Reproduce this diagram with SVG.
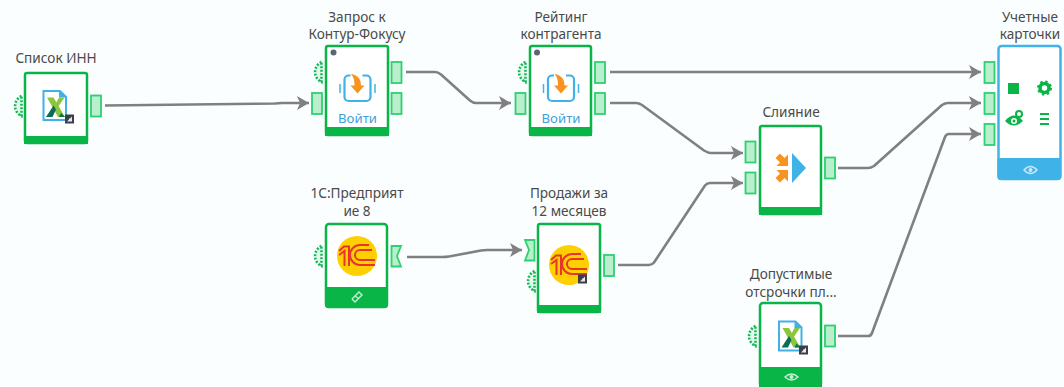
<svg xmlns="http://www.w3.org/2000/svg" width="1064" height="387" viewBox="0 0 1064 387">
<style>
.box{fill:#fff;stroke:#0ab547;stroke-width:2.5}
.foot{fill:#0ab547}
.port{fill:#b9efcc;stroke:#2ed071;stroke-width:1.8}
.half{fill:#e4f8ec;stroke:#14b957;stroke-width:2.6;stroke-dasharray:2 1.5}
.lbl{font-family:"Noto Sans","Roboto","Liberation Sans",sans-serif;font-size:13.6px;fill:#4a4a4a;text-anchor:middle}
.login{font-family:"Noto Sans","Roboto","Liberation Sans",sans-serif;font-size:13.2px;fill:#3f9fd8;text-anchor:middle}
.conn{fill:none;stroke:#808080;stroke-width:2.6;stroke-linejoin:round;marker-end:url(#arr)}
.red{fill:none;stroke:#e8352b;stroke-width:2}
.pale{fill:none;stroke:#c4efd3;stroke-width:1.4}
</style>
<defs>
<marker id="arr" markerUnits="userSpaceOnUse" markerWidth="16" markerHeight="16" refX="14" refY="8" orient="auto"><path d="M2 1L14 8L2 15L5 8Z" fill="#808080"/></marker>
<g id="xl">
<path d="M-11.500-14.500H5L11-8.500V14.500H-11.500Z" fill="#fff" stroke="#3fb2e8" stroke-width="2"/>
<path d="M4-15V-8H11.500Z" fill="#3fb2e8"/>
<path d="M-8-8H-1.500L10 11.500H3Z" fill="#8cc63f"/>
<path d="M4-8H9.500L3 1.500L1-2.500Z" fill="#8cc63f"/>
<path d="M-1.500 0L1 4L-2.500 11.500H-9Z" fill="#0a6e57"/>
<path d="M4 11.500L6 7.500L10 11.500Z" fill="#0a6e57"/>
</g>
<g id="short"><rect x="-4.500" y="-4.500" width="9" height="9" fill="#3a3f4b"/><path d="M-2.500 2.500H2.500V-2.500L.5-.5H-.5V.5Z" fill="#e8e8e8"/></g>
<g id="onec">
<circle r="20" fill="#ffd000"/>
<path class="red" d="M-18-5L-13-9.500H-8V10M-18-1L-12.500-5V10"/>
<path class="red" d="M18 9H3A10 10 0 0 1 3-11H12M18 4H3A5 5 0 0 1 3-6H15"/>
</g>
<g id="login">
<rect x="-13" y="-12.500" width="26" height="25.500" rx="4" fill="none" stroke="#3fb2e8" stroke-width="2.200"/>
<path d="M-17.500-4V5M17.500-4V5" stroke="#3fb2e8" stroke-width="1.500"/>
<rect x="-7" y="-14" width="12" height="4" fill="#fff"/>
<path d="M-6.500-14C1-13 3.500-8 3.500-2.500H7L0 5.500L-7-2.500H-3C-3-7-3.500-11-6.500-14Z" fill="#f7931e"/>
</g>
<g id="eye"><path d="M-6.500 0Q0-6 6.500 0Q0 6-6.500 0Z" class="pale"/><circle r="2" fill="#c4efd3"/></g>
</defs>
<rect width="1064" height="387" fill="#fbfefe"/>
<g id="connectors">
<path class="conn" d="M105 105.500L275 103.500Q278 103 282 103H309"/>
<path class="conn" d="M406 72H435Q438 72 441 74.500L470 100.500Q473 103 476 103H511"/>
<path class="conn" d="M610 72H981"/>
<path class="conn" d="M610 103H636Q639 103 642 105L704 150.500Q708 153 711 153H743"/>
<path class="conn" d="M407 257H442Q446 257 449 256.500L481 250.500Q484 250 487 250H522"/>
<path class="conn" d="M618 265H649Q652 265 654 262.500L705 185.500Q707 183 710 183H743"/>
<path class="conn" d="M838 168H868Q871 168 874 166L942 105Q945 103 948 103H981"/>
<path class="conn" d="M838 336H868Q871 336 872 333L945 137Q946 134 949 134H981"/>
</g>
<g id="node-inn">
<rect class="box" x="25" y="73" width="62" height="70" rx="2"/><rect class="foot" x="24" y="136" width="64" height="8"/>
<path class="half" d="M21.500 96A11 11 0 0 0 21.500 116Z"/>
<rect class="port" x="91" y="95.500" width="10" height="21"/>
<use href="#xl" x="55" y="105.500"/><use href="#short" x="69.500" y="119"/>
<text class="lbl" x="56" y="63">Список ИНН</text>
</g>
<g id="node-query">
<rect class="box" x="326" y="46" width="62" height="89" rx="2"/><rect class="foot" x="325" y="127" width="64" height="9"/>
<circle cx="333.500" cy="52.500" r="3" fill="#5a6675"/>
<path class="half" d="M321.500 62A11 11 0 0 0 321.500 82Z"/>
<rect class="port" x="312" y="93" width="10" height="21"/>
<rect class="port" x="391.500" y="62" width="10" height="21"/><rect class="port" x="391.500" y="93" width="10" height="21"/>
<use href="#login" x="357.500" y="88"/>
<text class="login" x="357.500" y="123">Войти</text>
<text class="lbl" x="357" y="22">Запрос к</text><text class="lbl" x="357" y="39">Контур-Фокусу</text>
</g>
<g id="node-rating">
<rect class="box" x="530" y="46" width="61" height="89" rx="2"/><rect class="foot" x="529" y="127" width="63" height="9"/>
<circle cx="537" cy="52.500" r="3" fill="#5a6675"/>
<path class="half" d="M525.500 62A11 11 0 0 0 525.500 82Z"/>
<rect class="port" x="515.500" y="93" width="10" height="21"/>
<rect class="port" x="595" y="62" width="10" height="21"/><rect class="port" x="595" y="93" width="10" height="21"/>
<use href="#login" x="561" y="88"/>
<text class="login" x="561" y="123">Войти</text>
<text class="lbl" x="561" y="22">Рейтинг</text><text class="lbl" x="561" y="39">контрагента</text>
</g>
<g id="node-cards">
<rect x="998.500" y="46" width="62" height="133" rx="3" fill="#fff" stroke="#3fb2e8" stroke-width="2.500"/>
<path d="M997.500 158H1061V177a3 3 0 0 1-3 3H1000.500a3 3 0 0 1-3-3Z" fill="#3fb2e8"/>
<rect class="port" x="984.500" y="62" width="10" height="21"/><rect class="port" x="984.500" y="93" width="10" height="21"/><rect class="port" x="984.500" y="124" width="10" height="21"/>
<rect x="1008" y="83" width="11" height="11" fill="#0ab547"/>
<circle cx="1044.500" cy="88" r="4.500" fill="none" stroke="#0ab547" stroke-width="3.500"/><circle cx="1044.500" cy="88" r="6.500" fill="none" stroke="#0ab547" stroke-width="2" stroke-dasharray="2.400 2.700"/>
<path d="M1005 121Q1014 110 1023 121Q1014 130 1005 121Z" fill="#0ab547"/><circle cx="1014" cy="121" r="3" fill="#fff"/><circle cx="1014" cy="121" r="1.500" fill="#0ab547"/>
<circle cx="1019" cy="114" r="3" fill="#fff" stroke="#0ab547" stroke-width="2"/>
<path d="M1040 114H1049M1040 119H1049M1040 124H1049" stroke="#0ab547" stroke-width="2"/>
<path d="M1024 170Q1030.500 163 1037 170Q1030.500 177 1024 170Z" fill="none" stroke="#c5e9f8" stroke-width="1.400"/><circle cx="1030.500" cy="170" r="2" fill="#c5e9f8"/>
<text class="lbl" x="1030" y="22">Учетные</text><text class="lbl" x="1030" y="39">карточки</text>
</g>
<g id="node-merge">
<rect class="box" x="760" y="126" width="61" height="88" rx="2"/><rect class="foot" x="759" y="207" width="63" height="8"/>
<rect class="port" x="745.500" y="141.500" width="10" height="21"/><rect class="port" x="745.500" y="172.500" width="10" height="21"/>
<rect class="port" x="825" y="157.500" width="10" height="21"/>
<path d="M792 153L806 168L792 183Z" fill="#3fb2e8"/>
<path d="M788 166H776.500L780 162.500L775.500 158L780 153.500L784.500 158L788 154.500ZM788 170H776.500L780 173.500L775.500 178L780 182.500L784.500 178L788 181.500Z" fill="#f7931e"/>
<text class="lbl" x="791" y="117">Слияние</text>
</g>
<g id="node-1c">
<rect class="box" x="326" y="224" width="61" height="83" rx="3"/><path class="foot" d="M325 287H388V305a3 3 0 0 1-3 3H328a3 3 0 0 1-3-3Z"/>
<path class="half" d="M321.500 246A11 11 0 0 0 321.500 266Z"/>
<path class="port" d="M391.500 246H401L397 256L401 266.500H391.500Z"/>
<use href="#onec" x="357" y="256"/>
<path class="pale" d="M352 299L355 302L362 295L359 292L352 299M355 296Q358 298 359 299" />
<text class="lbl" x="357" y="198">1С:Предприят</text><text class="lbl" x="357" y="216">ие 8</text>
</g>
<g id="node-sales">
<rect class="box" x="538" y="224" width="62" height="88" rx="2"/><rect class="foot" x="537" y="305" width="64" height="8"/>
<path class="port" d="M525 240H534.500V260.500H525L529 250Z"/>
<path class="half" d="M534.500 271A11 11 0 0 0 534.500 291Z"/>
<rect class="port" x="604" y="255" width="10" height="21"/>
<use href="#onec" x="569" y="265"/><use href="#short" x="582.500" y="279"/>
<text class="lbl" x="569" y="198">Продажи за</text><text class="lbl" x="569" y="216">12 месяцев</text>
</g>
<g id="node-allowed">
<rect class="box" x="760" y="303" width="61" height="83" rx="3"/><path class="foot" d="M759 367H822V387H759Z"/>
<path class="half" d="M755.500 326A11 11 0 0 0 755.500 346Z"/>
<rect class="port" x="825" y="325.500" width="10" height="21"/>
<use href="#xl" x="790.500" y="336"/><use href="#short" x="803.500" y="350"/>
<use href="#eye" x="791.500" y="377"/>
<text class="lbl" x="791" y="279">Допустимые</text><text class="lbl" x="791" y="297">отсрочки пл...</text>
</g>
</svg>
